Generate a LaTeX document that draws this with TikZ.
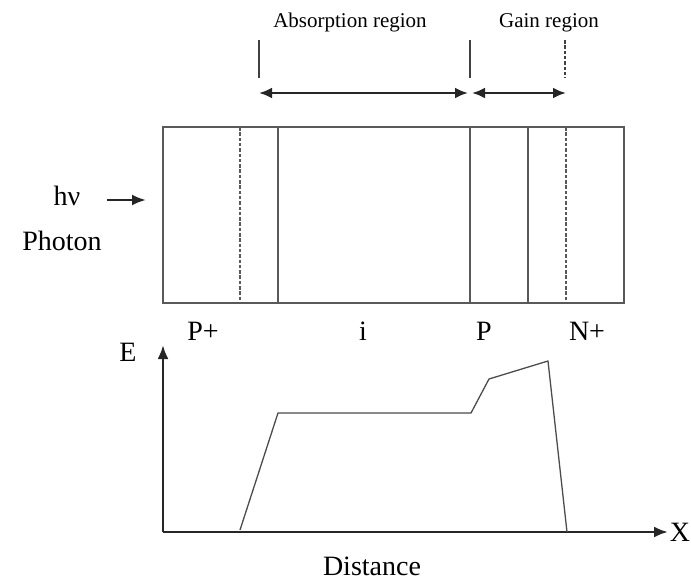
\documentclass[tikz,border=0pt]{standalone}
\usepackage{fontspec}
\setmainfont{Liberation Serif}
\usetikzlibrary{arrows.meta}
\begin{document}
\begin{tikzpicture}[x=1pt,y=-1pt,
  layer/.style={draw=black!65, line width=1.3pt},
  dashlayer/.style={draw=black!65, line width=1.3pt, dashed, dash pattern=on 3.5pt off 1.8pt},
  tick/.style={draw=black!75, line width=1.4pt},
  dimarrow/.style={draw=black!85, line width=2.6pt, {Latex[length=13pt,width=11pt]}-{Latex[length=13pt,width=11pt]}},
  axisarrow/.style={draw=black!85, line width=2.6pt, -{Latex[length=14pt,width=11pt]}},
  curve/.style={draw=black!70, line width=1.3pt, line join=round},
  lbl/.style={font=\fontsize{28}{30}\selectfont, inner sep=0pt, anchor=base},
  reg/.style={font=\fontsize{21}{24}\selectfont, inner sep=0pt, anchor=base}]
\useasboundingbox (0,0) rectangle (691,581);

% labels
\node[reg] (absl) at (350,27) {Absorption region};
\node[reg] (gainl) at (549,27) {Gain region};
\node[lbl] (hv) at (67,205) {hν};
\node[lbl] (photon) at (62,250) {Photon};
\node[lbl] (pp) at (203,340) {P+};
\node[lbl] (ii) at (363,340) {i};
\node[lbl] (pl) at (484,340) {P};
\node[lbl] (np) at (587,340) {N+};
\node[lbl] (el) at (128,361) {E};
\node[lbl] (xl) at (680,541) {X};
\node[lbl] (dist) at (372,575) {Distance};

% region markers
\coordinate (t1a) at (259,40); \coordinate (t1b) at (259,78);
\coordinate (t2a) at (470,40); \coordinate (t2b) at (470,78);
\coordinate (t3a) at (565,40); \coordinate (t3b) at (565,78);
\draw[tick] (t1a) -- (t1b);
\draw[tick] (t2a) -- (t2b);
\draw[tick, dashed, dash pattern=on 3.5pt off 1.8pt] (t3a) -- (t3b);
\coordinate (a1l) at (259,93); \coordinate (a1r) at (468,93);
\coordinate (a2l) at (472,93); \coordinate (a2r) at (566,93);
\draw[dimarrow] (a1l) -- (a1r);
\draw[dimarrow] (a2l) -- (a2r);

% device
\draw[layer] (163,127) rectangle (624,303);
\draw[dashlayer] (240,127) -- (240,303);
\draw[layer] (278,127) -- (278,303);
\draw[layer] (470,127) -- (470,303);
\draw[layer] (528,127) -- (528,303);
\draw[dashlayer] (566,127) -- (566,303);

% photon arrow
\coordinate (ph1) at (107,200); \coordinate (ph2) at (146,200);
\draw[axisarrow, line width=2.4pt] (ph1) -- (ph2);

% axes
\coordinate (org) at (163,532);
\coordinate (ytop) at (163,345);
\coordinate (xend) at (668,532);
\draw[axisarrow] (org) -- (ytop);
\draw[axisarrow] (org) -- (xend);

% energy profile
\draw[curve] (240,530) -- (278,413) -- (471,413) -- (489,379) -- (548,361) -- (567,532);
\end{tikzpicture}
\end{document}
